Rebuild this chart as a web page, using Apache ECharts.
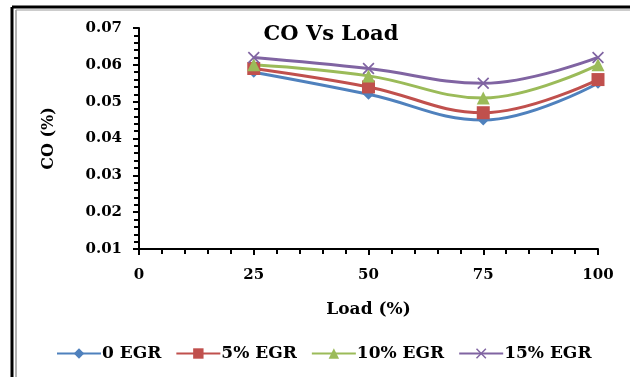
<!DOCTYPE html>
<html>
<head>
<meta charset="utf-8">
<script src="https://cdn.jsdelivr.net/npm/echarts@6/dist/echarts.min.js"></script>
<style>
  html, body { margin: 0; padding: 0; background: #fff; }
  #chart { width: 630px; height: 377px; }
</style>
</head>
<body>
<div id="chart"></div>
<script>
// 数据
var loads = [25, 50, 75, 100];
var egr0 = [0.058, 0.052, 0.045, 0.055];
var egr5 = [0.059, 0.054, 0.047, 0.056];
var egr10 = [0.060, 0.057, 0.051, 0.060];
var egr15 = [0.062, 0.059, 0.055, 0.062];
var seriesNames = ['0 EGR', '5% EGR', '10% EGR', '15% EGR'];

var serif = '"DejaVu Serif", "Liberation Serif", serif';
var crossPath = 'path://M0,1L1,0L5,4L9,0L10,1L6,5L10,9L9,10L5,6L1,10L0,9L4,5Z';

function pairs(ys) {
    var out = [];
    for (var i = 0; i < loads.length; i++) {
        out.push([loads[i], ys[i]]);
    }
    return out;
}

function makeSeries(name, ys, color, symbol, size) {
    return {
        name: name,
        type: 'line',
        smooth: 0.4,
        data: pairs(ys),
        symbol: symbol,
        symbolSize: size,
        showAllSymbol: true,
        lineStyle: { color: color, width: 3 },
        itemStyle: { color: color },
        emphasis: { disabled: true }
    };
}

var myChart = echarts.init(document.getElementById('chart'));
var option = {
    animation: false,
    backgroundColor: '#fff',
    title: {
        text: 'CO Vs Load',
        left: 326,
        top: 19,
        textAlign: 'center',
        textStyle: { fontFamily: serif, fontWeight: 'bold', fontSize: 21, color: '#000' }
    },
    legend: {
        data: seriesNames,
        left: 56,
        top: 345,
        padding: 0,
        itemWidth: 44,
        itemHeight: 13,
        itemGap: 14,
        textStyle: { fontFamily: serif, fontWeight: 'bold', fontSize: 17, color: '#000', padding: [0, 0, 0, -4] }
    },
    grid: { left: 139, right: 32, top: 28, bottom: 128 },
    xAxis: {
        type: 'value',
        min: 0,
        max: 100,
        interval: 25,
        name: 'Load (%)',
        nameLocation: 'middle',
        nameGap: 52,
        nameTextStyle: { fontFamily: serif, fontWeight: 'bold', fontSize: 17, color: '#000' },
        axisLine: { lineStyle: { color: '#000', width: 2 } },
        axisTick: { show: true, length: 6, lineStyle: { color: '#000', width: 2 } },
        minorTick: { show: true, splitNumber: 5, length: 5, lineStyle: { color: '#000', width: 2 } },
        splitLine: { show: false },
        axisLabel: { margin: 19, fontFamily: serif, fontWeight: 'bold', fontSize: 15, color: '#000' }
    },
    yAxis: {
        type: 'value',
        min: 0.01,
        max: 0.07,
        interval: 0.01,
        name: 'CO (%)',
        nameLocation: 'middle',
        nameGap: 82,
        nameRotate: 90,
        nameTextStyle: { fontFamily: serif, fontWeight: 'bold', fontSize: 16, color: '#000' },
        axisLine: { show: true, lineStyle: { color: '#000', width: 2 } },
        axisTick: { show: true, length: 6, lineStyle: { color: '#000', width: 2 } },
        minorTick: { show: true, splitNumber: 5, length: 5, lineStyle: { color: '#000', width: 2 } },
        splitLine: { show: false },
        axisLabel: {
            margin: 17,
            fontFamily: serif, fontWeight: 'bold', fontSize: 15, color: '#000',
            formatter: function (v) { return v.toFixed(2); }
        }
    },
    // 外框
    graphic: [
        { type: 'line', shape: { x1: 12, y1: 7, x2: 630, y2: 7 }, style: { stroke: '#000', lineWidth: 3 } },
        { type: 'line', shape: { x1: 12, y1: 7, x2: 12, y2: 377 }, style: { stroke: '#000', lineWidth: 3 } },
        { type: 'line', shape: { x1: 16, y1: 10, x2: 16, y2: 377 }, style: { stroke: '#666', lineWidth: 1 } },
        { type: 'line', shape: { x1: 16, y1: 10, x2: 630, y2: 10 }, style: { stroke: '#999', lineWidth: 1 } }
    ],
    series: [
        makeSeries(seriesNames[0], egr0, '#4F81BD', 'diamond', 11),
        makeSeries(seriesNames[1], egr5, '#C0504D', 'rect', 13),
        makeSeries(seriesNames[2], egr10, '#9BBB59', 'triangle', 13),
        makeSeries(seriesNames[3], egr15, '#8064A2', crossPath, 12)
    ]
};
myChart.setOption(option);
</script>
</body>
</html>
